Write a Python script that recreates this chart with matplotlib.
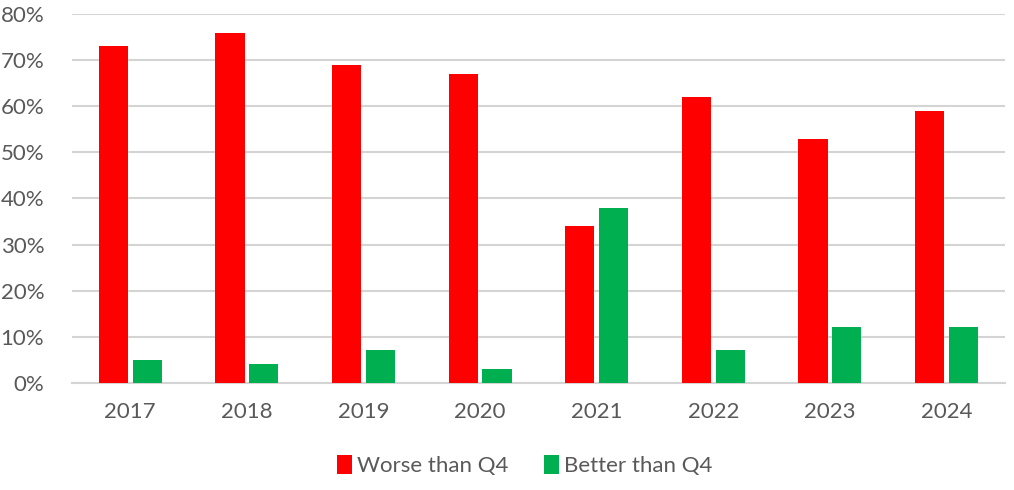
import numpy as np
import matplotlib.pyplot as plt
from matplotlib.ticker import PercentFormatter

years = ['2017', '2018', '2019', '2020', '2021', '2022', '2023', '2024']
worse = [73, 76, 69, 67, 34, 62, 53, 59]
better = [5, 4, 7, 3, 38, 7, 12, 12]

plt.rcParams['font.family'] = ['Lato', 'DejaVu Sans']
text_col = '#595959'
grid_col = '#D4D4D4'

fig = plt.figure(figsize=(10.14, 4.9), dpi=100)
ax = fig.add_axes([0.071, 0.219, 0.92, 0.752])

x = np.arange(len(years))
w = 0.25
off = 0.145
ax.bar(x - off, worse, w, color='#FF0000', label='Worse than Q4', zorder=3)
ax.bar(x + off, better, w, color='#00B050', label='Better than Q4', zorder=3)

ax.set_xlim(-0.5, len(years) - 0.5)
ax.set_ylim(0, 80)
ax.set_yticks(range(0, 81, 10))
ax.yaxis.set_major_formatter(PercentFormatter(decimals=0))
ax.set_xticks(x)
ax.set_xticklabels(years)

ax.grid(axis='y', color=grid_col, lw=1.5, zorder=0)
for s in ['top', 'right', 'left']:
    ax.spines[s].set_visible(False)
ax.spines['bottom'].set_color(grid_col)
ax.spines['bottom'].set_linewidth(1.5)
ax.tick_params(axis='both', length=0, labelsize=16, colors=text_col)
ax.tick_params(axis='x', pad=14)
ax.tick_params(axis='y', pad=20)

leg = fig.legend(loc='center', bbox_to_anchor=(0.517, 0.05), ncol=2, frameon=False,
                 fontsize=16, handlelength=0.7, handleheight=0.9, handletextpad=0.2,
                 columnspacing=1.6)
for t in leg.get_texts():
    t.set_color(text_col)

fig.savefig('out.png', dpi=100)
